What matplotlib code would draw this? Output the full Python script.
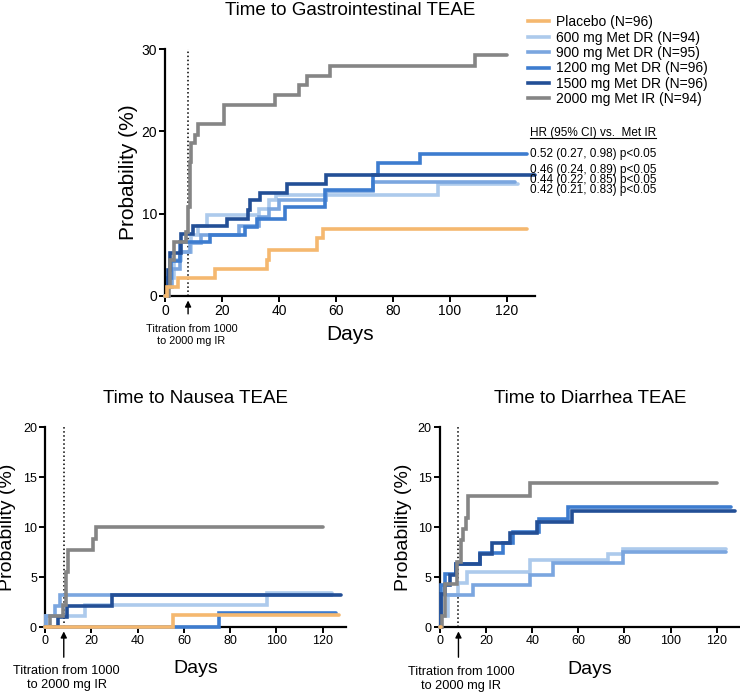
import matplotlib
matplotlib.use("Agg")
import matplotlib.pyplot as plt
from matplotlib.lines import Line2D

plt.rcParams['font.family'] = ['Liberation Sans', 'DejaVu Sans']

groups = ["Placebo (N=96)", "600 mg Met DR (N=94)", "900 mg Met DR (N=95)",
          "1200 mg Met DR (N=96)", "1500 mg Met DR (N=96)", "2000 mg Met IR (N=94)"]
colors = ["#f5b86f", "#adcaec", "#7ba6df", "#3d7ccf", "#234f96", "#858585"]

# Gastrointestinal TEAE: (event days, cumulative %), last follow-up day
gi_days = [
    [0, 0.5, 4.6, 17.5, 35.6, 36.5, 53.2, 55.5],
    [0, 0.8, 3, 5.5, 9, 11.5, 14.5, 33, 36.5, 39, 96],
    [0, 1, 2.5, 5, 8.5, 12.5, 26, 33, 36.5, 40, 56.5, 72.9],
    [0, 1, 2, 5, 15.6, 28, 32.1, 42.2, 56.2, 72.9, 74.6, 89.5],
    [0, 0.8, 1.8, 5.5, 9.6, 21.6, 28.9, 29.6, 33.3, 42.7, 56.5],
    [0, 1.2, 1.8, 3, 7.3, 8.0, 8.6, 9.2, 10.4, 11.5, 20.7, 38.6, 47, 49.7, 57.9, 109],
]
gi_pct = [
    [0, 1.1, 2.2, 3.3, 4.4, 5.6, 7.0, 8.1],
    [0, 2.1, 4.3, 5.3, 7.4, 8.5, 9.8, 10.6, 11.7, 12.3, 13.6],
    [0, 1.1, 3.2, 5.3, 6.4, 7.4, 8.5, 9.6, 10.6, 11.7, 12.8, 13.9],
    [0, 2.1, 4.2, 6.5, 7.4, 8.4, 9.3, 10.8, 12.9, 14.7, 16.1, 17.3],
    [0, 3.1, 5.2, 7.5, 8.5, 9.4, 10.4, 11.6, 12.5, 13.6, 14.7],
    [0, 1.1, 4.3, 6.5, 7.7, 10.8, 16.3, 18.6, 19.6, 20.9, 23.2, 24.4, 25.7, 26.8, 28.0, 29.3],
]
gi_end = [127, 124, 123, 127, 130, 120]

# Nausea TEAE
na_days = [
    [0, 55.4],
    [0, 0.5, 17.2, 95.8],
    [0, 0.5, 4.2, 6.4],
    [0, 75],
    [0, 5.5, 9.5, 28.7],
    [0, 2, 7.8, 8.8, 10, 20.8, 22],
]
na_pct = [
    [0, 1.2],
    [0, 1.1, 2.2, 3.4],
    [0, 1.1, 2.1, 3.2],
    [0, 1.4],
    [0, 1.0, 2.1, 3.2],
    [0, 1.1, 2.2, 5.5, 7.7, 8.8, 10.0],
]
na_end = [127, 124, 124, 126, 128, 120]

# Diarrhea TEAE
di_days = [
    [0],
    [0, 0.5, 3.6, 7.6, 11.6, 39, 73, 79.5],
    [0, 0.5, 14.2, 39, 49, 79.5],
    [0, 0.5, 2, 7, 17.3, 27.5, 31.5, 43, 55.6],
    [0, 0.5, 2, 4.5, 7, 17.3, 22.4, 30.4, 41.9, 57.1],
    [0, 0.8, 2.2, 7.2, 8.9, 10.0, 11.1, 12.1, 39.0],
]
di_pct = [
    [0],
    [0, 1.1, 3.2, 4.4, 5.5, 6.7, 7.3, 7.8],
    [0, 3.2, 4.2, 5.2, 6.4, 7.5],
    [0, 4.2, 5.3, 6.3, 7.4, 8.4, 9.5, 10.8, 12.0],
    [0, 3.3, 4.2, 5.2, 6.3, 7.3, 8.4, 9.4, 10.5, 11.6],
    [0, 1.1, 4.3, 6.5, 8.7, 9.8, 10.9, 13.1, 14.4],
]
di_end = [0.6, 124, 124, 126, 128, 120]

hr_labels = ["0.52 (0.27, 0.98) p<0.05", "0.46 (0.24, 0.89) p<0.05",
             "0.44 (0.22, 0.85) p<0.05", "0.42 (0.21, 0.83) p<0.05"]
hr_y = [17.3, 15.3, 14.1, 12.9]

titration = 8


def km_panel(ax, days, pct, ends, ymax, ystep, title, fs_tick, fs_lab, ylab_x, xlab_y,
             note_y, arrow_tail, title_pad, fs_note):
    for i, (d, p, e, c) in enumerate(zip(days, pct, ends, colors)):
        # placebo drawn on top, as in the original
        ax.step(d + [e], p + [p[-1]], where='post', color=c, lw=2.6,
                solid_capstyle='round', solid_joinstyle='miter',
                zorder=4 if i == 0 else 3, clip_on=False)
    ax.axvline(titration, color='black', ls=':', lw=1.1, zorder=2)
    ax.set_xlim(0, 130)
    ax.set_ylim(0, ymax)
    ax.set_xticks(range(0, 121, 20))
    ax.set_yticks(range(0, ymax + 1, ystep))
    for s in ['top', 'right']:
        ax.spines[s].set_visible(False)
    for s in ['left', 'bottom']:
        ax.spines[s].set_linewidth(1.6)
    ax.tick_params(direction='out', length=4, width=1.4, labelsize=fs_tick, pad=2)
    ax.set_title(title, fontsize=13.5, pad=title_pad)
    ax.set_ylabel('Probability (%)', fontsize=fs_lab)
    ax.set_xlabel('Days', fontsize=fs_lab)
    ax.yaxis.set_label_coords(ylab_x, 0.5)
    ax.xaxis.set_label_coords(0.5, xlab_y)
    tr = ax.get_xaxis_transform()
    ax.annotate('', xy=(titration, -0.008), xycoords=tr,
                xytext=(titration, arrow_tail), textcoords=tr,
                arrowprops=dict(arrowstyle='-|>', color='black', lw=1, mutation_scale=9))
    ax.text(titration + 1.2, note_y, 'Titration from 1000\nto 2000 mg IR', transform=tr,
            ha='center', va='center', fontsize=fs_note, linespacing=1.2)


fig = plt.figure(figsize=(7.4, 6.94), dpi=100)

ax1 = fig.add_axes([0.2234, 0.5739, 0.4999, 0.3550])
km_panel(ax1, gi_days, gi_pct, gi_end, 30, 10, 'Time to Gastrointestinal TEAE',
         10, 15, -0.074, -0.12, -0.16, -0.085, 25, 7.8)

ax2 = fig.add_axes([0.0612, 0.0965, 0.4059, 0.2878])
km_panel(ax2, na_days, na_pct, na_end, 20, 5, 'Time to Nausea TEAE',
         9, 14, -0.099, -0.165, -0.257, -0.165, 17.5, 9.2)

ax3 = fig.add_axes([0.5946, 0.0965, 0.4051, 0.2878])
km_panel(ax3, di_days, di_pct, di_end, 20, 5, 'Time to Diarrhea TEAE',
         9, 14, -0.093, -0.17, -0.26, -0.165, 17.5, 9.2)

handles = [Line2D([], [], color=c, lw=2.6) for c in colors]
fig.legend(handles, groups, loc='upper left', bbox_to_anchor=(0.714, 0.978),
           frameon=False, fontsize=10, handlelength=1.5, handletextpad=0.5,
           labelspacing=0.1, borderpad=0, borderaxespad=0)

hdr = ax1.text(128, 19.85, 'HR (95% CI) vs.  Met IR', fontsize=8.5, va='center',
               ha='left', clip_on=False)
for lab, y in zip(hr_labels, hr_y):
    ax1.text(128, y, lab, fontsize=8.5, va='center', ha='left', clip_on=False)

fig.canvas.draw()
bb = hdr.get_window_extent()
fig.add_artist(Line2D([bb.x0 / fig.bbox.width, bb.x1 / fig.bbox.width],
                      [(bb.y0 + 0.5) / fig.bbox.height] * 2, color='black', lw=0.8))

fig.savefig('out.png', dpi=100)
